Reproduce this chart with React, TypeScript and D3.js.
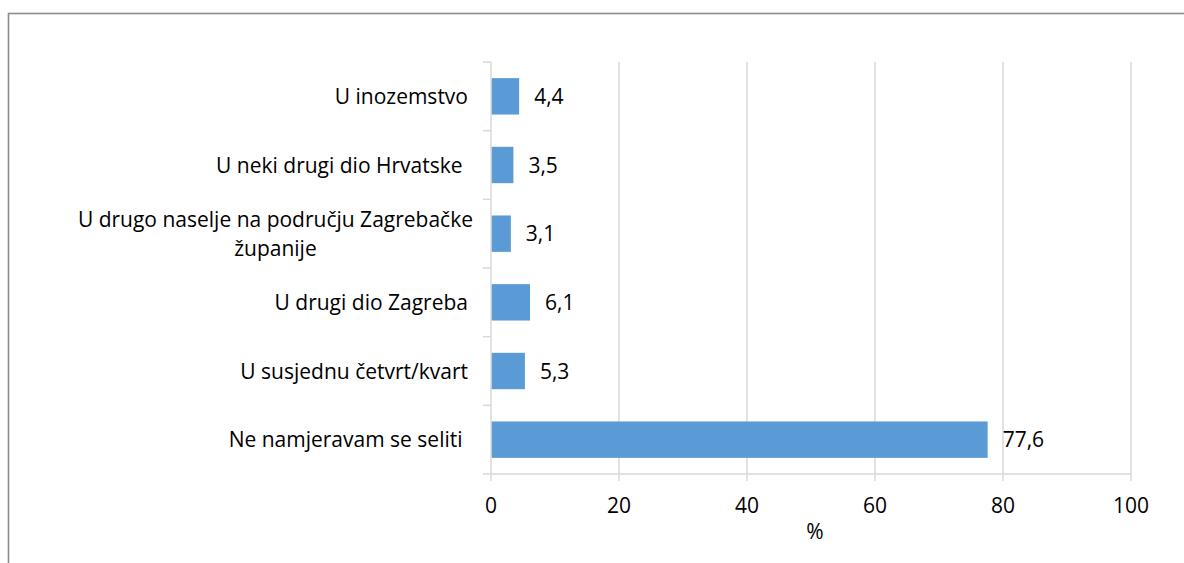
import React from "react";
import * as d3 from "d3";

const categories: string[][] = [
  ["U inozemstvo"],
  ["U neki drugi dio Hrvatske "],
  ["U drugo naselje na području Zagrebačke", "županije"],
  ["U drugi dio Zagreba"],
  ["U susjednu četvrt/kvart"],
  ["Ne namjeravam se seliti "],
];
const values: number[] = [4.4, 3.5, 3.1, 6.1, 5.3, 77.6];
const xTicks: number[] = [0, 20, 40, 60, 80, 100];
const xTitle = "%";

const W = 1184;
const H = 563;
const FONT = "'Open Sans', sans-serif";
const FS = 21;

export default function App() {
  const left = 491;
  const right = 1131;
  const top = 62;
  const bottom = 474;
  const x = d3.scaleLinear().domain([0, 100]).range([left, right]);
  const keys = categories.map((_, i) => String(i));
  const y = d3.scaleBand().domain(keys).range([top, bottom]).paddingInner(0.47).paddingOuter(0.235);
  const band = d3.scaleBand().domain(keys).range([top, bottom]);
  const fmt = (v: number) => v.toFixed(1).replace(".", ",");
  const grid = "#d9d9d9";
  const labelRight = left - 23;

  return (
    <svg width={W} height={H} style={{ position: "absolute", left: 0, top: 0, background: "#fff" }} fontFamily={FONT}>
      <rect x={8.5} y={13.5} width={W + 20} height={H + 20} fill="#fff" stroke="#8c8c8c" strokeWidth={1.6} />
      {/* gridlines */}
      {xTicks.filter((t) => t > 0).map((t) => (
        <line key={"g" + t} x1={x(t)} x2={x(t)} y1={top} y2={bottom + 7} stroke={grid} strokeWidth={1.5} />
      ))}
      {/* category axis */}
      <line x1={left} x2={left} y1={top} y2={bottom + 7} stroke={grid} strokeWidth={1.5} />
      {keys.map((k) => (
        <line key={"ct" + k} x1={left - 8} x2={left} y1={band(k)!} y2={band(k)!} stroke={grid} strokeWidth={1.5} />
      ))}
      <line x1={left - 8} x2={right} y1={bottom} y2={bottom} stroke={grid} strokeWidth={1.5} />
      {/* bars */}
      {values.map((v, i) => (
        <rect key={"b" + i} x={x(0) + 0.75} y={y(keys[i])!} width={x(v) - x(0) - 0.75} height={y.bandwidth()} fill="#5b9bd5" />
      ))}
      {/* value labels */}
      {values.map((v, i) => (
        <text key={"v" + i} x={x(v) + 15} y={y(keys[i])! + y.bandwidth() / 2} dy="0.36em" fontSize={FS} fill="#000">
          {fmt(v)}
        </text>
      ))}
      {/* category labels */}
      {categories.map((lines, i) => {
        const cy = band(keys[i])! + band.bandwidth() / 2;
        const lh = 29;
        if (lines.length === 1) {
          return (
            <text
              key={"c" + i}
              x={labelRight}
              y={cy}
              dy="0.36em"
              textAnchor="end"
              fontSize={FS}
              fill="#000"
              style={{ whiteSpace: "pre" }}
            >
              {lines[0]}
            </text>
          );
        }
        return <MultiLabel key={"c" + i} lines={lines} xRight={labelRight + 5} cy={cy} lh={lh} />;
      })}
      {/* x tick labels */}
      {xTicks.map((t) => (
        <text key={"xt" + t} x={x(t)} y={bottom + 39} textAnchor="middle" fontSize={FS} fill="#000">
          {t}
        </text>
      ))}
      <text x={(x(0) + x(100)) / 2 + 4} y={bottom + 65} textAnchor="middle" fontSize={FS} fill="#000">
        {xTitle}
      </text>
    </svg>
  );
}

function MultiLabel({ lines, xRight, cy, lh }: { lines: string[]; xRight: number; cy: number; lh: number }) {
  const ref = React.useRef<SVGGElement>(null);
  const [w, setW] = React.useState(0);
  React.useLayoutEffect(() => {
    if (ref.current) {
      const texts = ref.current.querySelectorAll("text");
      let m = 0;
      texts.forEach((t) => (m = Math.max(m, (t as SVGTextElement).getComputedTextLength())));
      setW(m);
    }
  }, []);
  const n = lines.length;
  return (
    <g ref={ref}>
      {lines.map((l, j) => (
        <text
          key={j}
          x={xRight - w / 2}
          y={cy + (j - (n - 1) / 2) * lh}
          dy="0.36em"
          textAnchor="middle"
          fontSize={FS}
          fill="#000"
        >
          {l}
        </text>
      ))}
    </g>
  );
}
